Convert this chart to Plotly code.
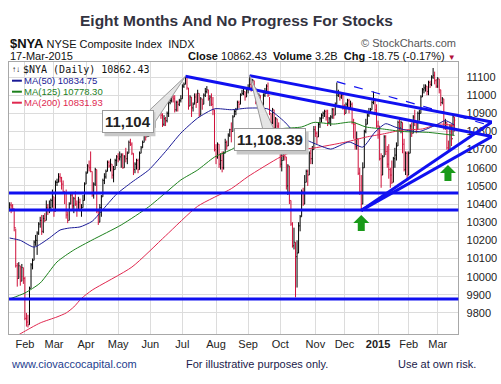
import plotly.graph_objects as go
import pandas as pd

# ---------------- data ----------------
holidays = ["2014-01-20", "2014-02-17", "2014-04-18", "2014-05-26", "2014-07-04",
            "2014-09-01", "2014-11-27", "2014-12-25", "2015-01-01", "2015-01-19", "2015-02-16"]
dates = [d for d in pd.bdate_range("2014-01-17", "2015-03-17") if d.strftime("%Y-%m-%d") not in holidays]

opens = [
    10380, 10395, 10390, 10375, 10270, 10060, 9990, 10060, 9975, 10050,
    9990, 9770, 9750, 9735, 9935, 10065, 10090, 10190, 10200, 10240,
    10290, 10310, 10250, 10320, 10310, 10380, 10370, 10380, 10420, 10440,
    10360, 10520, 10520, 10550, 10545, 10510, 10470, 10460, 10340, 10310,
    10400, 10450, 10390, 10430, 10400, 10370, 10410, 10370, 10380, 10420,
    10510, 10570, 10610, 10600, 10580, 10450, 10510, 10590, 10360, 10300,
    10380, 10440, 10530, 10550, 10580, 10630, 10610, 10620, 10560, 10590,
    10640, 10660, 10650, 10660, 10670, 10600, 10660, 10650, 10680, 10740,
    10730, 10680, 10590, 10620, 10640, 10590, 10680, 10710, 10740, 10780,
    10770, 10800, 10800, 10810, 10800, 10820, 10890, 10930, 10930, 10920,
    10890, 10840, 10870, 10860, 10900, 10960, 10970, 10990, 10980, 10920,
    10960, 10950, 10970, 10980, 11050, 11060, 11100, 11040, 10940, 10990,
    10930, 10950, 10990, 10960, 11010, 10890, 10980, 10950, 11000, 11020,
    11030, 10980, 10990, 10950, 10920, 10700, 10660, 10730, 10620, 10640,
    10600, 10680, 10740, 10720, 10780, 10810, 10800, 10880, 10910, 10920,
    10960, 10950, 11000, 11010, 11020, 10990, 11030, 11040, 11060, 11040,
    11080, 11040, 10960, 10990, 11000, 10940, 10930, 11000, 11010, 11050,
    11000, 10900, 10850, 10920, 10820, 10870, 10830, 10780, 10620, 10640,
    10700, 10660, 10500, 10610, 10420, 10290, 10170, 10190, 10110, 10130,
    10280, 10330, 10470, 10400, 10520, 10580, 10560, 10680, 10650, 10700,
    10810, 10790, 10770, 10840, 10870, 10890, 10900, 10910, 10880, 10850,
    10870, 10880, 10920, 10890, 10950, 11000, 11010, 10990, 11000, 10940,
    10900, 10950, 10970, 10930, 10950, 10850, 10840, 10720, 10760, 10570,
    10470, 10400, 10600, 10800, 10840, 10890, 10910, 10920, 10960, 10980,
    10920, 10830, 10830, 10650, 10560, 10660, 10770, 10690, 10620, 10590,
    10560, 10520, 10650, 10670, 10720, 10850, 10820, 10850, 10730, 10590,
    10680, 10560, 10680, 10830, 10790, 10880, 10850, 10810, 10900, 10900,
    10990, 11030, 11040, 11050, 11020, 11070, 11060, 11100, 11110, 11080,
    11050, 11090, 11030, 10960, 10980, 10820, 10850, 10710, 10700, 10830,
    10760, 10881]
highs = [
    10410, 10410, 10400, 10375, 10265, 10075, 10080, 10060, 10070, 10050,
    10000, 9800, 9790, 9945, 10075, 10100, 10200, 10230, 10250, 10300,
    10330, 10340, 10340, 10350, 10420, 10400, 10420, 10430, 10480, 10440,
    10530, 10540, 10570, 10570, 10550, 10530, 10470, 10480, 10360, 10410,
    10460, 10460, 10440, 10470, 10420, 10440, 10430, 10400, 10450, 10520,
    10580, 10620, 10640, 10690, 10580, 10520, 10600, 10590, 10370, 10400,
    10450, 10540, 10570, 10590, 10640, 10640, 10650, 10620, 10610, 10650,
    10670, 10680, 10690, 10680, 10680, 10670, 10710, 10690, 10750, 10760,
    10740, 10680, 10630, 10650, 10650, 10690, 10720, 10750, 10790, 10790,
    10810, 10815, 10825, 10815, 10830, 10900, 10940, 10950, 10940, 10920,
    10900, 10890, 10880, 10910, 10970, 10990, 11000, 11000, 11000, 10970,
    10970, 10980, 11000, 11060, 11070, 11104, 11100, 11040, 11000, 10990,
    10960, 11010, 11010, 11030, 11010, 10990, 10980, 11010, 11040, 11050,
    11030, 11000, 11010, 10990, 10920, 10730, 10740, 10730, 10680, 10690,
    10690, 10760, 10750, 10790, 10815, 10850, 10890, 10920, 10930, 10970,
    10970, 11010, 11030, 11040, 11020, 11040, 11060, 11108, 11090, 11090,
    11080, 11040, 11000, 11010, 11000, 10960, 11010, 11040, 11060, 11070,
    10990, 10900, 10930, 10920, 10880, 10870, 10850, 10780, 10680, 10710,
    10740, 10660, 10620, 10610, 10420, 10300, 10270, 10190, 10200, 10300,
    10340, 10480, 10490, 10560, 10590, 10590, 10690, 10700, 10720, 10830,
    10830, 10800, 10850, 10880, 10900, 10910, 10920, 10920, 10920, 10880,
    10890, 10930, 10930, 10960, 11070, 11030, 11020, 11010, 11010, 10950,
    10960, 10980, 10980, 10970, 10960, 10870, 10850, 10800, 10760, 10600,
    10560, 10630, 10810, 10870, 10900, 10930, 10930, 10970, 11020, 10980,
    10950, 10860, 10830, 10680, 10670, 10780, 10780, 10720, 10730, 10600,
    10640, 10660, 10710, 10740, 10860, 10870, 10860, 10850, 10760, 10690,
    10690, 10690, 10840, 10850, 10890, 10920, 10850, 10910, 10920, 11000,
    11040, 11060, 11060, 11050, 11080, 11080, 11110, 11150, 11130, 11090,
    11100, 11090, 11030, 10990, 10980, 10870, 10850, 10750, 10840, 10840,
    10890, 10880]
lows = [
    10360, 10350, 10360, 10250, 10050, 9945, 9990, 9950, 9975, 9960,
    9760, 9725, 9720, 9735, 9935, 10040, 10090, 10170, 10120, 10230,
    10270, 10230, 10240, 10300, 10310, 10340, 10350, 10360, 10380, 10330,
    10360, 10500, 10520, 10520, 10480, 10460, 10400, 10320, 10295, 10310,
    10400, 10370, 10350, 10390, 10330, 10370, 10360, 10330, 10380, 10420,
    10510, 10570, 10580, 10575, 10440, 10430, 10500, 10350, 10285, 10300,
    10330, 10440, 10510, 10540, 10580, 10600, 10580, 10540, 10520, 10590,
    10610, 10630, 10640, 10600, 10595, 10600, 10630, 10620, 10680, 10720,
    10670, 10560, 10570, 10590, 10570, 10590, 10680, 10710, 10740, 10750,
    10770, 10770, 10780, 10775, 10780, 10820, 10890, 10910, 10900, 10870,
    10825, 10830, 10830, 10850, 10880, 10950, 10960, 10960, 10905, 10910,
    10910, 10940, 10960, 10980, 11040, 11060, 11030, 10920, 10940, 10880,
    10910, 10950, 10930, 10960, 10880, 10890, 10920, 10950, 10990, 11010,
    10970, 10940, 10940, 10890, 10690, 10620, 10650, 10600, 10590, 10575,
    10590, 10680, 10700, 10720, 10770, 10740, 10800, 10880, 10890, 10920,
    10930, 10950, 11000, 11000, 10970, 10990, 11010, 11040, 11020, 11030,
    11020, 10950, 10950, 10960, 10930, 10900, 10920, 10990, 11010, 10990,
    10890, 10840, 10840, 10810, 10820, 10790, 10760, 10600, 10580, 10640,
    10640, 10480, 10450, 10400, 10280, 10160, 10150, 9886, 9940, 10130,
    10250, 10330, 10390, 10400, 10520, 10500, 10560, 10620, 10620, 10700,
    10770, 10730, 10770, 10820, 10850, 10870, 10880, 10860, 10830, 10840,
    10830, 10870, 10870, 10890, 10950, 10990, 10970, 10980, 10920, 10890,
    10900, 10930, 10900, 10920, 10840, 10760, 10700, 10700, 10560, 10450,
    10360, 10400, 10600, 10790, 10840, 10880, 10900, 10920, 10950, 10900,
    10820, 10760, 10640, 10490, 10560, 10660, 10670, 10600, 10540, 10490,
    10510, 10520, 10600, 10640, 10720, 10800, 10790, 10680, 10580, 10560,
    10540, 10560, 10680, 10770, 10790, 10830, 10790, 10810, 10860, 10900,
    10990, 11010, 11020, 11000, 11000, 11040, 11050, 11090, 11060, 11040,
    11040, 11010, 10940, 10950, 10810, 10810, 10700, 10690, 10700, 10720,
    10780, 10800]
closes = [
    10395, 10390, 10375, 10270, 10060, 9990, 10060, 9975, 10050, 9990,
    9770, 9750, 9735, 9935, 10065, 10090, 10190, 10200, 10240, 10290,
    10310, 10250, 10320, 10310, 10380, 10370, 10380, 10420, 10440, 10360,
    10520, 10520, 10550, 10545, 10510, 10470, 10460, 10340, 10310, 10400,
    10450, 10390, 10430, 10400, 10370, 10410, 10370, 10380, 10420, 10510,
    10570, 10610, 10600, 10580, 10450, 10510, 10590, 10360, 10300, 10380,
    10440, 10530, 10550, 10580, 10630, 10610, 10620, 10560, 10590, 10640,
    10660, 10650, 10660, 10670, 10600, 10660, 10650, 10680, 10740, 10730,
    10680, 10590, 10620, 10640, 10590, 10680, 10710, 10740, 10780, 10770,
    10800, 10800, 10810, 10800, 10820, 10890, 10930, 10930, 10920, 10890,
    10840, 10870, 10860, 10900, 10960, 10970, 10990, 10980, 10920, 10960,
    10950, 10970, 10980, 11050, 11060, 11100, 11040, 10940, 10990, 10930,
    10950, 10990, 10960, 11010, 10890, 10980, 10950, 11000, 11020, 11030,
    10980, 10990, 10950, 10920, 10700, 10660, 10730, 10620, 10640, 10600,
    10680, 10740, 10720, 10780, 10810, 10800, 10880, 10910, 10920, 10960,
    10950, 11000, 11010, 11020, 10990, 11030, 11040, 11060, 11040, 11080,
    11040, 10960, 10990, 11000, 10940, 10930, 11000, 11010, 11050, 11000,
    10900, 10850, 10920, 10820, 10870, 10830, 10780, 10620, 10640, 10700,
    10660, 10500, 10610, 10420, 10290, 10170, 10190, 10110, 10130, 10280,
    10330, 10470, 10400, 10520, 10580, 10560, 10680, 10650, 10700, 10810,
    10790, 10770, 10840, 10870, 10890, 10900, 10910, 10880, 10850, 10870,
    10880, 10920, 10890, 10950, 11000, 11010, 10990, 11000, 10940, 10900,
    10950, 10970, 10930, 10950, 10850, 10840, 10720, 10760, 10570, 10470,
    10400, 10600, 10800, 10840, 10890, 10910, 10920, 10960, 10980, 10920,
    10830, 10830, 10650, 10560, 10660, 10770, 10690, 10620, 10590, 10560,
    10520, 10650, 10670, 10720, 10850, 10820, 10850, 10730, 10590, 10680,
    10560, 10680, 10830, 10790, 10880, 10850, 10810, 10900, 10900, 10990,
    11030, 11040, 11050, 11020, 11070, 11060, 11100, 11110, 11080, 11050,
    11090, 11030, 10960, 10980, 10820, 10850, 10710, 10700, 10830, 10760,
    10881, 10862.43]

# moving averages (trading-day index, value)
ma50_idx = [0, 7, 16, 26, 33, 39, 46, 54, 60, 70, 80, 91, 102, 112, 123, 134, 145, 156,
            169, 180, 186, 193, 202, 210, 222, 231, 239, 246, 252, 259, 268, 279, 285, 291]
ma50_val = [10213, 10200, 10163, 10213, 10257, 10268, 10274, 10305, 10360, 10455, 10521,
            10588, 10690, 10791, 10874, 10925, 10920, 10929, 10924, 10852, 10797, 10758,
            10725, 10703, 10742, 10714, 10797, 10843, 10825, 10808, 10800, 10836, 10860, 10834.75]
ma125_idx = [0, 10, 20, 31, 42, 54, 73, 91, 102, 112, 123, 134, 146, 156, 166, 177, 191,
             199, 212, 224, 233, 244, 257, 274, 291]
ma125_val = [9877, 9910, 9965, 10081, 10147, 10202, 10285, 10385, 10462, 10533, 10588,
             10659, 10705, 10775, 10795, 10815, 10825, 10850, 10841, 10852, 10825, 10814,
             10800, 10795, 10778.30]
ma200_idx = [0, 8, 20, 31, 37, 42, 47, 54, 80, 102, 123, 145, 156, 177, 188, 199, 220,
             233, 244, 257, 270, 281, 291]
ma200_val = [9650, 9690, 9745, 9778, 9800, 9833, 9880, 9926, 10053, 10225, 10388, 10485,
             10552, 10659, 10698, 10709, 10742, 10769, 10786, 10808, 10814, 10841, 10831.93]

# drawn trendlines (start index, start value, end index, end value)
trend_x0 = [115, 157, 230, 230]
trend_y0 = [11104, 11108, 10365, 10365]
trend_x1 = [315.5, 315.5, 315.5, 315.5]
trend_y1 = [10772, 10852, 10852, 10772]
dash_x = [214, 315.5]
dash_y = [11075, 10830]
support_levels = [10461, 10367, 9877]

# callouts and arrows
callout_idx = [115, 157]
callout_val = [11104, 11108]
callout_txt = ["11,104", "11,108.39"]
arrow_idx = [230, 286.7]
arrow_val = [10340, 10615]

y_ticks = [9800, 9900, 10000, 10100, 10200, 10300, 10400, 10500, 10600, 10700,
           10800, 10900, 11000, 11100]
month_names = ["Jan", "Feb", "Mar", "Apr", "May", "Jun", "Jul", "Aug", "Sep", "Oct", "Nov", "Dec"]

# ---------------- layout geometry ----------------
W, H = 501, 384
ML, MR, MT, MB = 9, 4, 62, 50
PW, PH = W - ML - MR, H - MT - MB
DOM = 454 / PW
XR = [-0.4, 293.5]
YR = [9684, 11183]
X2R = [XR[0], XR[0] + (XR[1] - XR[0]) / DOM]


def px(x):
    return (x - ML) / PW


def py(y):
    return (H - MB - y) / PH


FONT = "Liberation Sans, Arial, sans-serif"
BLUE = "#1010f0"

x_idx = list(range(len(dates)))
tickvals, ticktext = [], []
for i in range(1, len(dates)):
    if dates[i].month != dates[i - 1].month:
        tickvals.append(i)
        if dates[i].month == 1:
            ticktext.append("<b>%d</b>" % dates[i].year)
        else:
            ticktext.append(month_names[dates[i].month - 1])

fig = go.Figure()

fig.add_trace(go.Scatter(x=ma200_idx, y=ma200_val, mode="lines", line=dict(color="#e0284f", width=1, shape="spline", smoothing=0.6),
                         xaxis="x", yaxis="y", hoverinfo="skip", showlegend=False))
fig.add_trace(go.Scatter(x=ma125_idx, y=ma125_val, mode="lines", line=dict(color="#1c801c", width=1, shape="spline", smoothing=0.6),
                         xaxis="x", yaxis="y", hoverinfo="skip", showlegend=False))
fig.add_trace(go.Scatter(x=ma50_idx, y=ma50_val, mode="lines", line=dict(color="#1a1a96", width=1, shape="spline", smoothing=0.6),
                         xaxis="x", yaxis="y", hoverinfo="skip", showlegend=False))
fig.add_trace(go.Ohlc(x=x_idx, open=opens, high=highs, low=lows, close=closes,
                      increasing=dict(line=dict(color="#000000", width=1)),
                      decreasing=dict(line=dict(color="#d0103a", width=1)),
                      tickwidth=0.45, xaxis="x", yaxis="y", hoverinfo="skip", showlegend=False))

for a, b, c, d in zip(trend_x0, trend_y0, trend_x1, trend_y1):
    fig.add_trace(go.Scatter(x=[a, c], y=[b, d], mode="lines", line=dict(color=BLUE, width=3),
                             xaxis="x2", yaxis="y2", hoverinfo="skip", showlegend=False))
fig.add_trace(go.Scatter(x=dash_x, y=dash_y, mode="lines", line=dict(color=BLUE, width=1.2, dash="dash"),
                         xaxis="x2", yaxis="y2", hoverinfo="skip", showlegend=False))

shapes = []
for lvl in support_levels:
    shapes.append(dict(type="line", xref="x domain", yref="y", x0=0, x1=1, y0=lvl, y1=lvl,
                       line=dict(color=BLUE, width=3), layer="above"))

arrow_path = "M 0,0 L 8,-8 L 3.5,-8 L 3.5,-16 L -3.5,-16 L -3.5,-8 L -8,-8 Z"
for ai, av in zip(arrow_idx, arrow_val):
    shapes.append(dict(type="path", xref="x", yref="y", xsizemode="pixel", ysizemode="pixel",
                       xanchor=ai, yanchor=av, path=arrow_path, fillcolor="#1a9a1a",
                       line=dict(width=0), layer="above"))

# callout pointer wedges and box shadows (pixel offsets from the marked highs)
wedges = ["M 0,0 L -35,-33 L -34,-51 Z", "M 0,0 L 13,-53 L 24,-53 Z"]
shadows = [(-81, -30, -36, -60), (-13, 59, -56, -79)]
for (ci, cv), wp, (sx0, sx1, sy0, sy1) in zip(zip(callout_idx, callout_val), wedges, shadows):
    shapes.append(dict(type="path", xref="x", yref="y", xsizemode="pixel", ysizemode="pixel",
                       xanchor=ci, yanchor=cv, path=wp, fillcolor="#e4e4e4",
                       line=dict(color="#9a9a9a", width=1), layer="above"))
    shapes.append(dict(type="rect", xref="x", yref="y", xsizemode="pixel", ysizemode="pixel",
                       xanchor=ci, yanchor=cv, x0=sx0, x1=sx1, y0=sy0, y1=sy1,
                       fillcolor="#c8c8c8", line=dict(width=0), layer="above"))

# legend colour swatches
for yy, col in [(80.7, "#1a1a96"), (91.7, "#1c801c"), (102.7, "#e0284f")]:
    shapes.append(dict(type="line", xref="paper", yref="paper", x0=px(12), x1=px(22), y0=py(yy), y1=py(yy),
                       line=dict(color=col, width=2)))

ann = []
offsets = [(-57, 45), (20, 64)]
for (ci, cv), txt, (ax, ay) in zip(zip(callout_idx, callout_val), callout_txt, offsets):
    ann.append(dict(x=ci, y=cv, xref="x", yref="y", text="<b>%s</b>" % txt, showarrow=True,
                    arrowcolor="rgba(0,0,0,0)", arrowwidth=0.1, ax=ax, ay=ay,
                    font=dict(family=FONT, size=15, color="#222222"),
                    bgcolor="#ffffff", bordercolor="#9a9a9a", borderwidth=1, borderpad=2))


def text(x, y, s, size=11, color="#111111", anchor="left", family=FONT):
    ann.append(dict(x=px(x), y=py(y), xref="paper", yref="paper", text=s, showarrow=False,
                    xanchor=anchor, yanchor="middle", font=dict(family=family, size=size, color=color)))


text(239, 20, "<b>Eight Months And No Progress For Stocks</b>", size=15.5, color="#33333f", anchor="center")
text(8, 43.5, "<b><span style='font-size:13px'>$NYA</span></b> NYSE Composite Index  INDX", size=11, color="#111111")
text(8, 56, "17-Mar-2015", size=11, color="#111111")
text(463, 43.5, "© StockCharts.com", size=11, color="#555555", anchor="right")
text(463, 56, "<b>Close</b> 10862.43  <b>Volume</b> 3.2B  <b>Chg</b> -18.75 (-0.17%) "
              "<span style='color:#b0103a;font-size:8px'>▼</span>", size=11, color="#111111", anchor="right")
text(10, 69, "↑↓", size=8, color="#111111")
text(21, 69, "$NYA (Daily) 10862.43", size=10, color="#111111", family="DejaVu Sans Mono, monospace")
text(22, 80.7, "MA(50) 10834.75", size=9.5, color="#1a1a96")
text(22, 91.7, "MA(125) 10778.30", size=9.5, color="#1c801c")
text(22, 102.7, "MA(200) 10831.93", size=9.5, color="#e0284f")
text(9, 364, "www.ciovaccocapital.com", size=11, color="#23408e")
text(186, 364, "For illustrative purposes only.", size=11, color="#1a1a4a")
text(400, 364, "Use at own risk.", size=11, color="#1a1a4a")

fig.update_layout(
    width=W, height=H, margin=dict(l=ML, r=MR, t=MT, b=MB, pad=0),
    paper_bgcolor="#ffffff", plot_bgcolor="rgba(0,0,0,0)",
    hovermode=False, showlegend=False,
    shapes=shapes, annotations=ann,
    xaxis=dict(domain=[0, DOM], range=XR, anchor="y", tickvals=tickvals, ticktext=ticktext,
               showgrid=True, gridcolor="#dcdcdc", gridwidth=1, zeroline=False,
               showline=True, linecolor="#a8a8a8", linewidth=1, mirror=True, ticks="",
               rangeslider=dict(visible=False),
               tickfont=dict(family=FONT, size=11, color="#222222"), fixedrange=True),
    yaxis=dict(domain=[0, 1], range=YR, anchor="x", side="right", tickvals=y_ticks,
               tickformat="d",
               showgrid=True, gridcolor="#dcdcdc", gridwidth=1, zeroline=False,
               showline=True, linecolor="#a8a8a8", linewidth=1, mirror=True, ticks="",
               ticklabelstandoff=5,
               tickfont=dict(family=FONT, size=11, color="#222222"), fixedrange=True),
    xaxis2=dict(domain=[0, 1], range=X2R, anchor="y2", visible=False, showgrid=False, fixedrange=True),
    yaxis2=dict(domain=[0, 1], range=YR, anchor="x2", visible=False, showgrid=False, fixedrange=True),
)

fig.write_html("out.html", config={"displayModeBar": False},
               post_script="document.body.style.margin='0px';document.body.style.padding='0px';")
